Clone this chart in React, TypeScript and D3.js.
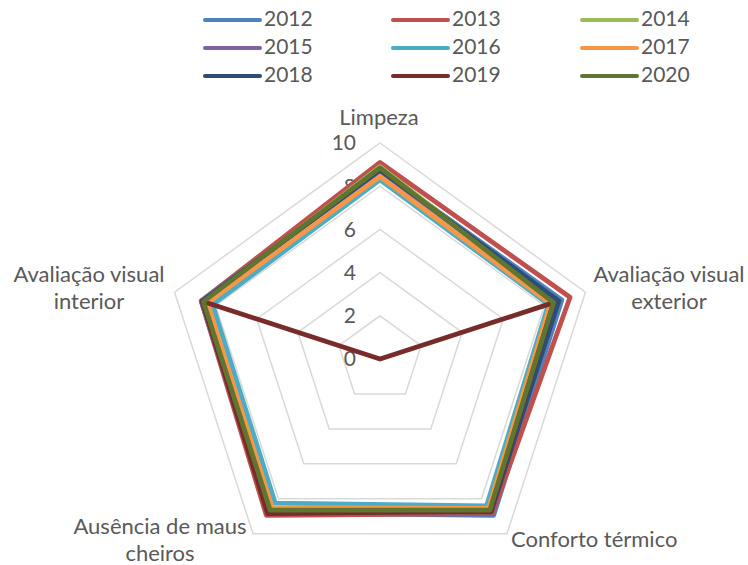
import React from "react";
import * as d3 from "d3";

const axes = ["Limpeza", "Avaliação visual exterior", "Conforto térmico", "Ausência de maus cheiros", "Avaliação visual interior"];
const years = ["2012", "2013", "2014", "2015", "2016", "2017", "2018", "2019", "2020"];
const colors = ["#4F81BD", "#C0504D", "#9BBB59", "#8064A2", "#4BACC6", "#F79646", "#2C4D75", "#772C2A", "#5F7530"];
const v2012 = [8.75, 8.85, 8.95, 8.8, 8.65];
const v2013 = [9.1, 9.25, 8.85, 8.95, 8.7];
const v2014 = [8.9, 8.5, 8.6, 8.6, 8.55];
const v2015 = [8.7, 8.6, 8.7, 8.8, 8.7];
const v2016 = [8.3, 8.2, 8.4, 8.25, 8.15];
const v2017 = [8.45, 8.3, 8.55, 8.5, 8.4];
const v2018 = [8.75, 8.7, 8.75, 8.75, 8.65];
const v2019 = [0, 8.45, 8.7, 8.85, 8.65];
const v2020 = [8.85, 8.45, 8.65, 8.65, 8.6];
const seriesValues = [v2012, v2013, v2014, v2015, v2016, v2017, v2018, v2019, v2020];
const ticks = [0, 2, 4, 6, 8, 10];

const W = 748, H = 565;
const cx = 380, cy = 359;
const FONT = "Lato, 'Open Sans', sans-serif";
const TXT = "#595959";

export default function App() {
  const r = d3.scaleLinear().domain([0, 10]).range([0, 216]);
  const angle = (i: number) => (-90 + i * 72) * Math.PI / 180;
  const pt = (i: number, v: number): [number, number] => [cx + r(v) * Math.cos(angle(i)), cy + r(v) * Math.sin(angle(i))];
  const line = d3.line<[number, number]>().curve(d3.curveLinearClosed);

  const labelSpec = [
    { lines: ["Limpeza"], x: 379, y: 125, anchor: "middle" },
    { lines: ["Avaliação visual", "exterior"], x: 669, y: 282, anchor: "middle" },
    { lines: ["Conforto térmico"], x: 511, y: 547, anchor: "start" },
    { lines: ["Ausência de maus", "cheiros"], x: 160, y: 534, anchor: "middle" },
    { lines: ["Avaliação visual", "interior"], x: 89, y: 282, anchor: "middle" },
  ];

  const legendCols = [205, 393, 582];
  const legendRows = [20, 48, 76];

  return (
    <div style={{ position: "fixed", left: 0, top: 0 }}>
      <svg width={W} height={H} style={{ display: "block", background: "#fff" }}>
        {ticks.filter(t => t > 0).map(t => (
          <path key={t} d={line(axes.map((_, i) => pt(i, t))) || ""} fill="none" stroke="#D9D9D9" strokeWidth={1.5} />
        ))}
        {ticks.map(t => (
          <text key={"t" + t} x={356} y={cy - r(t) + 2} textAnchor="end" dominantBaseline="middle" fontFamily={FONT} fontSize={21} fill={TXT}>{t}</text>
        ))}
        {seriesValues.map((vals, s) => (
          <path key={years[s]} d={line(vals.map((v, i) => pt(i, v))) || ""} fill="none" stroke={colors[s]} strokeWidth={4.8} strokeLinejoin="round" />
        ))}
        {labelSpec.map((l, k) => (
          <text key={"l" + k} x={l.x} y={l.y} textAnchor={l.anchor as any} fontFamily={FONT} fontSize={22} fill={TXT}>
            {l.lines.map((ln, j) => (
              <tspan key={j} x={l.x} dy={j === 0 ? 0 : 27}>{ln}</tspan>
            ))}
          </text>
        ))}
        {years.map((y, s) => {
          const col = s % 3, row = Math.floor(s / 3);
          const x0 = legendCols[col], yy = legendRows[row];
          return (
            <g key={"lg" + y}>
              <line x1={x0} x2={x0 + 55} y1={yy} y2={yy} stroke={colors[s]} strokeWidth={4} strokeLinecap="round" />
              <text x={x0 + 59} y={yy + 1} dominantBaseline="middle" fontFamily={FONT} fontSize={21} fill={TXT}>{y}</text>
            </g>
          );
        })}
      </svg>
    </div>
  );
}
